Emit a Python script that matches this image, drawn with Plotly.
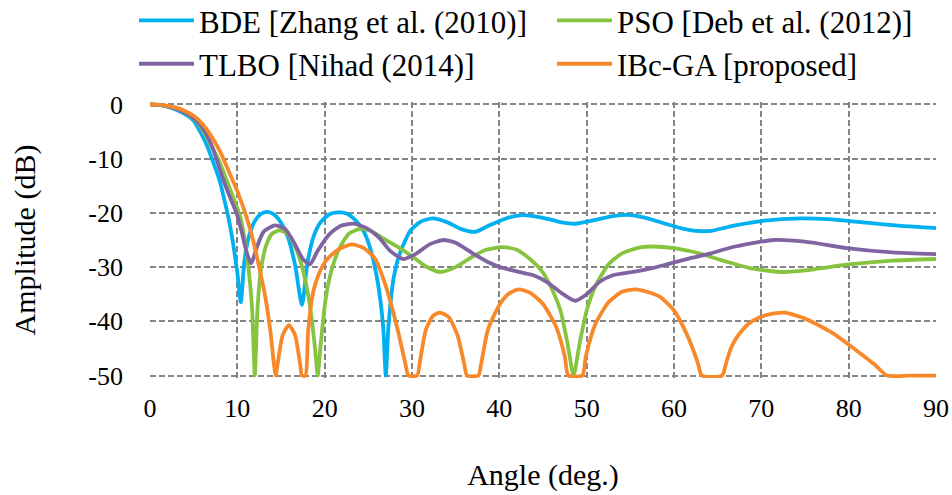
import plotly.graph_objects as go

# ---------------- data ----------------
bde_x = [0, 1, 2, 3, 4, 5, 6, 6.5, 7, 7.5, 8, 8.5, 9, 9.5, 10, 10.4, 10.8, 11.3, 12, 12.7,
         13.4, 14.2, 15, 15.8, 16.6, 17.4, 18.0, 18.7, 19.5, 20.5, 21.5, 22.5, 23.5, 24.5,
         25.3, 26.1, 26.7, 27.0, 27.3, 27.9, 28.6, 29.8, 31, 32.4, 34, 35.5, 37.2, 39, 41,
         42.7, 45, 47, 48.7, 51, 53, 55, 57, 59, 61, 62.5, 64.3, 67, 70, 74.5, 78, 82, 86, 90]
bde_y = [0, -0.1, -0.4, -1.0, -1.8, -3.0, -5.8, -7.5, -9.6, -11.8, -14.2, -17.5, -21, -25.5,
         -31, -36.5, -29, -24.5, -21.5, -20.2, -19.8, -20.3, -21.8, -24.5, -29.5, -37, -29.5,
         -24.5, -21.8, -20.3, -19.9, -20.1, -21.3, -23.5, -27, -33, -41, -50, -41, -32, -27.5,
         -23.3, -21.6, -21, -21.7, -22.9, -23.5, -22.2, -20.9, -20.4, -20.9, -21.7, -22, -21.3,
         -20.6, -20.4, -21, -22, -22.9, -23.3, -23.3, -22.3, -21.5, -21, -21.2, -21.8, -22.4, -22.8]

pso_x = [0, 1, 2, 3, 4, 5, 6, 7, 7.8, 8.5, 9.2, 9.8, 10.3, 10.8, 11.3, 11.7, 12.0, 12.3, 12.7,
         13.3, 14.0, 14.9, 15.8, 16.7, 17.5, 18.3, 18.9, 19.2, 19.5, 20.1, 20.8, 21.7, 22.8,
         24.2, 25.5, 27, 28.6, 30, 31.5, 33.2, 35, 37, 38.5, 40.4, 42, 43.5, 45, 46, 47, 47.8,
         48.5, 49.2, 50, 51, 52.5, 54, 56, 57.6, 60, 63, 66, 69, 72.5, 76, 80, 85, 90]
pso_y = [0, -0.1, -0.35, -0.8, -1.5, -2.6, -4.6, -7.6, -10, -12.8, -15.8, -18.3, -20.5, -24.5,
         -30.5, -38, -50, -38, -30.5, -26, -23.8, -23.2, -24, -26.5, -30.5, -37, -45, -50, -45,
         -36, -30.5, -26.5, -23.8, -22.9, -23.5, -25, -26.5, -28, -29.8, -30.9, -30, -28, -26.8,
         -26.3, -26.8, -28.5, -31, -34, -38, -44, -50, -44, -38, -33.5, -29.5, -27.5, -26.4,
         -26.2, -26.5, -27.5, -29, -30.3, -30.9, -30.4, -29.5, -28.8, -28.5]

tlbo_x = [0, 1, 2, 3, 4, 5, 6, 7, 7.6, 8.3, 9, 9.9, 10.5, 11.1, 11.6, 12.2, 13.0, 14.3, 15.5,
          16.5, 17.5, 18.3, 19.2, 20.5, 21.8, 23.3, 24.8, 26.2, 27.5, 29.0, 30.5, 32, 33.6, 35,
          37, 39, 40.1, 42, 43.9, 45.5, 47.3, 48.7, 50, 51.5, 53, 55.3, 57.5, 59.6, 62, 64.1,
          67, 71.4, 75, 79.8, 85, 90]
tlbo_y = [0, -0.1, -0.35, -0.8, -1.5, -2.5, -4.3, -7.3, -10, -13.5, -16.5, -20, -23.5, -27.5,
          -29.3, -26.5, -23.5, -22.3, -23, -25.5, -28.5, -29.5, -27, -24, -22.4, -22, -22.8,
          -24.5, -27, -28.5, -27.5, -25.8, -25, -25.5, -27.5, -29.3, -30, -30.8, -31.5, -32.8,
          -35, -36.2, -35, -32.7, -31.5, -30.9, -30.2, -29.3, -28.3, -27.5, -26.2, -25, -25.3,
          -26.5, -27.3, -27.6]

ibcga_x = [0, 1, 2, 3, 4, 5, 6, 7, 8, 8.4, 9.2, 10, 11.0, 11.8, 12.5, 13.2, 13.8, 14.2, 14.4,
           14.6, 15.2, 15.9, 16.6, 17.2, 17.4, 17.8, 18.1, 18.7, 19.4, 20.2, 21.5, 23.1, 24.5,
           25.8, 27, 27.8, 28.5, 29.2, 29.6, 30.6, 30.9, 31.6, 32.4, 33.2, 34.2, 35.2, 36.0,
           36.3, 37.6, 37.9, 38.7, 40, 41, 42.2, 43.5, 45, 46.5, 47.5, 47.9, 49.5, 49.9, 51,
           52.5, 54, 55.6, 57, 58.4, 60, 61.5, 62.7, 63.2, 65.5, 66, 66.5, 67.2, 68.5, 69.9,
           71.3, 72.7, 75, 78, 81, 83, 84.4, 87, 90]
ibcga_y = [0, -0.05, -0.25, -0.6, -1.2, -2.1, -3.6, -5.8, -8.6, -10, -13, -16, -20.5, -25,
           -30, -35.5, -42, -48, -50, -48, -42.5, -40.7, -42.5, -48, -50, -50, -42, -34.5, -31,
           -28.7, -26.8, -25.8, -26.5, -28.5, -33.5, -38, -42.5, -47.5, -50, -50, -47.5, -41.5,
           -39, -38.4, -39.2, -42.5, -48, -50, -50, -48, -41.5, -37, -35, -34.1, -34.7, -36.8,
           -41, -46.5, -50, -50, -46.5, -40.5, -36.5, -34.6, -34.1, -34.6, -35.5, -38, -42.5,
           -47.5, -50, -50, -47.5, -45, -42.9, -40.5, -39.2, -38.6, -38.4, -39.5, -42, -45.5,
           -48, -50, -50, -50]

series = [
    ("BDE [Zhang et al. (2010)]", bde_x, bde_y, "#00B0F0", "legend"),
    ("PSO [Deb et al. (2012)]", pso_x, pso_y, "#86C440", "legend2"),
    ("TLBO [Nihad (2014)]", tlbo_x, tlbo_y, "#8064A2", "legend"),
    ("IBc-GA [proposed]", ibcga_x, ibcga_y, "#F7892B", "legend2"),
]
x_ticks = [0, 10, 20, 30, 40, 50, 60, 70, 80, 90]
y_ticks = [0, -10, -20, -30, -40, -50]

FONT = "Liberation Serif"

fig = go.Figure()
for name, xs, ys, col, lg in series:
    fig.add_trace(go.Scatter(x=xs, y=ys, mode="lines", name=name, legend=lg,
                             line=dict(color=col, width=3.8, shape="spline", smoothing=0.6)))

grid = dict(showgrid=True, gridcolor="#858585", gridwidth=1.8, griddash="6px,3px",
            zeroline=False, showline=False, ticks="",
            tickfont=dict(family=FONT, size=26, color="black"))

legend_common = dict(orientation="v", yanchor="top", xanchor="left",
                     font=dict(family=FONT, size=31, color="black"),
                     itemwidth=55, tracegroupgap=0, bgcolor="rgba(0,0,0,0)",
                     traceorder="normal")

fig.update_layout(
    width=952, height=495,
    margin=dict(l=150, r=16, t=101.6, b=116.6, pad=0, autoexpand=False),
    paper_bgcolor="white", plot_bgcolor="white",
    font=dict(family=FONT, color="black"),
    showlegend=True,
    legend=dict(x=(134 - 150) / 786, y=1.392, **legend_common),
    legend2=dict(x=(552 - 150) / 786, y=1.392, **legend_common),
    xaxis=dict(range=[0, 90], tickvals=x_ticks, ticktext=[str(v) for v in x_ticks],
               ticklabelstandoff=12,
               title=dict(text="Angle (deg.)", font=dict(family=FONT, size=30, color="black"),
                          standoff=41),
               **grid),
    yaxis=dict(range=[-50.45, 0.45], tickvals=y_ticks, ticktext=[str(v) for v in y_ticks],
               ticklabelstandoff=26,
               title=dict(text="Amplitude (dB)", font=dict(family=FONT, size=30, color="black"),
                          standoff=43),
               **grid),
)

fig.write_html("out.html")
